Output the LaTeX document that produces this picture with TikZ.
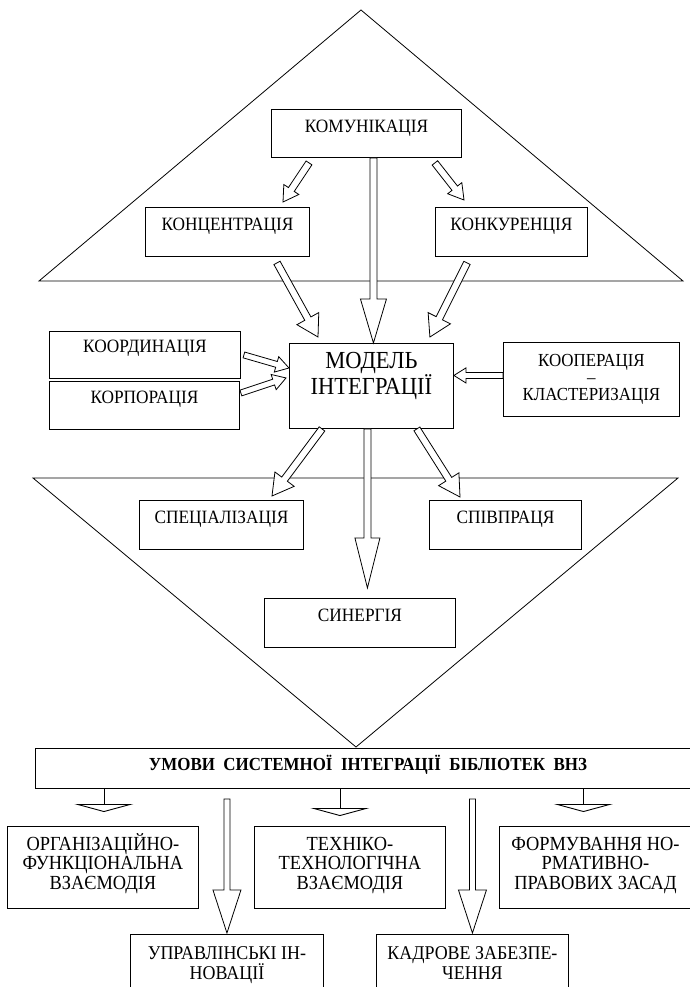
\documentclass[tikz,border=0pt]{standalone}
\usepackage{fontspec}
\setmainfont{Liberation Serif}[FakeStretch=0.92]
\usetikzlibrary{arrows.meta, calc, positioning}
\tikzset{
    blok/.style      = {draw, line width=0.9pt, fill=white, inner sep=0pt, align=center,
                        anchor=north west, font=\fontsize{18.8}{19}\selectfont},
    holovnyi/.style  = {blok, font=\fontsize{24.5}{24}\selectfont},
    nyzhnii/.style   = {blok, font=\fontsize{20}{19.5}\selectfont},
    umova/.style     = {blok, font=\fontsize{18.4}{18}\selectfont\bfseries},
    trykutnyk/.style = {draw, line width=0.8pt, line join=miter},
    kontur/.style    = {draw, line width=0.8pt, fill=white, line join=miter},
    vidvid/.style    = {line width=0.9pt, -{Triangle[open, length=8pt, width=59pt]}},
}
% hollow block arrow: start, tip, shaft half width, head half width, head length
\newcommand{\strilka}[5]{%
    \coordinate (hh) at ($(#2)!#5!(#1)$);
    \draw[kontur] ($(#1)!#3!90:(#2)$) -- ($(hh)!#3!90:(#2)$) -- ($(hh)!#4!90:(#2)$) -- (#2)
        -- ($(hh)!#4!-90:(#2)$) -- ($(hh)!#3!-90:(#2)$) -- ($(#1)!#3!-90:(#2)$) -- cycle;
}

\begin{document}
\begin{tikzpicture}[x=1pt, y=-1pt]
    \useasboundingbox (0,0) rectangle (690,987);
    \clip (0,0) rectangle (690,987);
    % triangles
    \draw[trykutnyk] (361,10) -- (683,281) -- (39,281) -- cycle;
    \draw[trykutnyk] (33,478) -- (678,478) -- (356,747) -- cycle;
    % boxes (text height = top edge to last baseline)
    \node[blok, minimum width=190pt, text height=23pt, text depth=25pt] (komun) at (271,109) {КОМУНІКАЦІЯ};
    \node[blok, minimum width=164pt, text height=23pt, text depth=26pt] (konc) at (145,207) {КОНЦЕНТРАЦІЯ};
    \node[blok, minimum width=152pt, text height=23pt, text depth=26pt] (konk) at (435,207) {КОНКУРЕНЦІЯ};
    \node[blok, minimum width=191pt, text height=21pt, text depth=26pt] (koord) at (49,331) {КООРДИНАЦІЯ};
    \node[blok, minimum width=190pt, text height=22pt, text depth=26pt] (korp) at (49,381) {КОРПОРАЦІЯ};
    \node[holovnyi, minimum width=164pt, text height=51pt, text depth=34pt] (model) at (289,343) {МОДЕЛЬ\\ІНТЕГРАЦІЇ};
    \node[blok, minimum width=176pt, text height=58pt, text depth=16pt,
          font=\fontsize{18.4}{17}\selectfont] (koop) at (503,342) {КООПЕРАЦІЯ\\–\\КЛАСТЕРИЗАЦІЯ};
    \node[blok, minimum width=164pt, text height=23pt, text depth=26pt] (spec) at (139,500) {СПЕЦІАЛІЗАЦІЯ};
    \node[blok, minimum width=152pt, text height=23pt, text depth=26pt] (spivp) at (429,500) {СПІВПРАЦЯ};
    \node[blok, minimum width=191pt, text height=23pt, text depth=26pt] (synerg) at (264,598) {СИНЕРГІЯ};
    \node[umova, minimum width=665pt, text height=22pt, text depth=18pt] (umovy) at (35,748)
        {УМОВИ\ \ СИСТЕМНОЇ\ \ ІНТЕГРАЦІЇ\ \ БІБЛІОТЕК\ \ ВНЗ};
    \node[nyzhnii, minimum width=191pt, text height=63pt, text depth=19pt] (org) at (7,826)
        {ОРГАНІЗАЦІЙНО-\\ФУНКЦІОНАЛЬНА\\ВЗАЄМОДІЯ};
    \node[nyzhnii, minimum width=191pt, text height=63pt, text depth=19pt] (tekh) at (254,826)
        {ТЕХНІКО-\\ТЕХНОЛОГІЧНА\\ВЗАЄМОДІЯ};
    \node[nyzhnii, minimum width=192pt, text height=63pt, text depth=19pt] (form) at (499,826)
        {ФОРМУВАННЯ НО-\\РМАТИВНО-\\ПРАВОВИХ ЗАСАД};
    \node[nyzhnii, minimum width=193pt, text height=45pt, text depth=60pt,
          font=\fontsize{19.5}{19.5}\selectfont] (upr) at (130,934) {УПРАВЛІНСЬКІ ІН-\\НОВАЦІЇ};
    \node[nyzhnii, minimum width=192pt, text height=45pt, text depth=60pt,
          font=\fontsize{19.5}{19.5}\selectfont] (kadr) at (376,934) {КАДРОВЕ ЗАБЕЗПЕ-\\ЧЕННЯ};
    % arrows in the upper triangle
    \coordinate (s1) at ($(komun.south west)+(38,5)$);
    \coordinate (t1) at ($(konc.north west)+(138,-5)$);
    \strilka{s1}{t1}{3.5pt}{9pt}{15pt}
    \coordinate (s2) at ($(komun.south east)+(-27,5)$);
    \coordinate (t2) at ($(konk.north west)+(29,-7)$);
    \strilka{s2}{t2}{3.5pt}{9pt}{15pt}
    \coordinate (t3) at ($(model.north)+(2,0)$);
    \coordinate (s3) at (komun.south -| t3);
    \strilka{s3}{t3}{3.5pt}{13pt}{44pt}
    \coordinate (s4) at ($(konc.south west)+(132,6)$);
    \coordinate (t4) at ($(model.north west)+(29,-6)$);
    \strilka{s4}{t4}{3.5pt}{12.5pt}{21pt}
    \coordinate (s5) at ($(konk.south west)+(32,6)$);
    \coordinate (t5) at ($(model.north east)+(-24,-6)$);
    \strilka{s5}{t5}{3.5pt}{12.5pt}{21pt}
    % side arrows
    \coordinate (s6) at ($(koord.east)+(3,0)$);
    \coordinate (t6) at ($(model.north west)+(0,25)$);
    \strilka{s6}{t6}{3pt}{8pt}{13pt}
    \coordinate (s7) at ($(korp.north east)+(1,12)$);
    \coordinate (t7) at ($(model.west)+(-3,-8)$);
    \strilka{s7}{t7}{3pt}{8pt}{13pt}
    \coordinate (s8) at ($(koop.west)+(0,-4)$);
    \coordinate (t8) at (model.east |- s8);
    \strilka{s8}{t8}{3pt}{7.5pt}{12pt}
    % arrows into the lower triangle
    \coordinate (s9) at ($(model.south west)+(33,0)$);
    \coordinate (t9) at ($(spec.north west)+(133,-4)$);
    \strilka{s9}{t9}{3.5pt}{12pt}{21pt}
    \coordinate (s10) at ($(model.south east)+(-37,0)$);
    \coordinate (t10) at ($(spivp.north west)+(31,-3)$);
    \strilka{s10}{t10}{3.5pt}{12pt}{21pt}
    \coordinate (s11) at ($(model.south)+(-4,0)$);
    \coordinate (t11) at ($(s11 |- synerg.north)+(0,-10)$);
    \strilka{s11}{t11}{3.5pt}{12.5pt}{50pt}
    % conditions
    \coordinate (o1) at ($(org.north)+(1,-14)$);
    \coordinate (o2) at ($(tekh.north)+(-10,-10)$);
    \coordinate (o3) at ($(form.north)+(-12,-14)$);
    \foreach \o in {o1,o2,o3} \draw[vidvid] (umovy.south -| \o) -- (\o);
    \coordinate (s12) at ($(umovy.south -| upr.north)+(0,10)$);
    \coordinate (t12) at ($(upr.north)+(0,-1)$);
    \strilka{s12}{t12}{3pt}{14pt}{43pt}
    \coordinate (s13) at ($(umovy.south -| kadr.north)+(0,10)$);
    \coordinate (t13) at ($(kadr.north)+(0,-1)$);
    \strilka{s13}{t13}{3pt}{14pt}{43pt}
\end{tikzpicture}
\end{document}
